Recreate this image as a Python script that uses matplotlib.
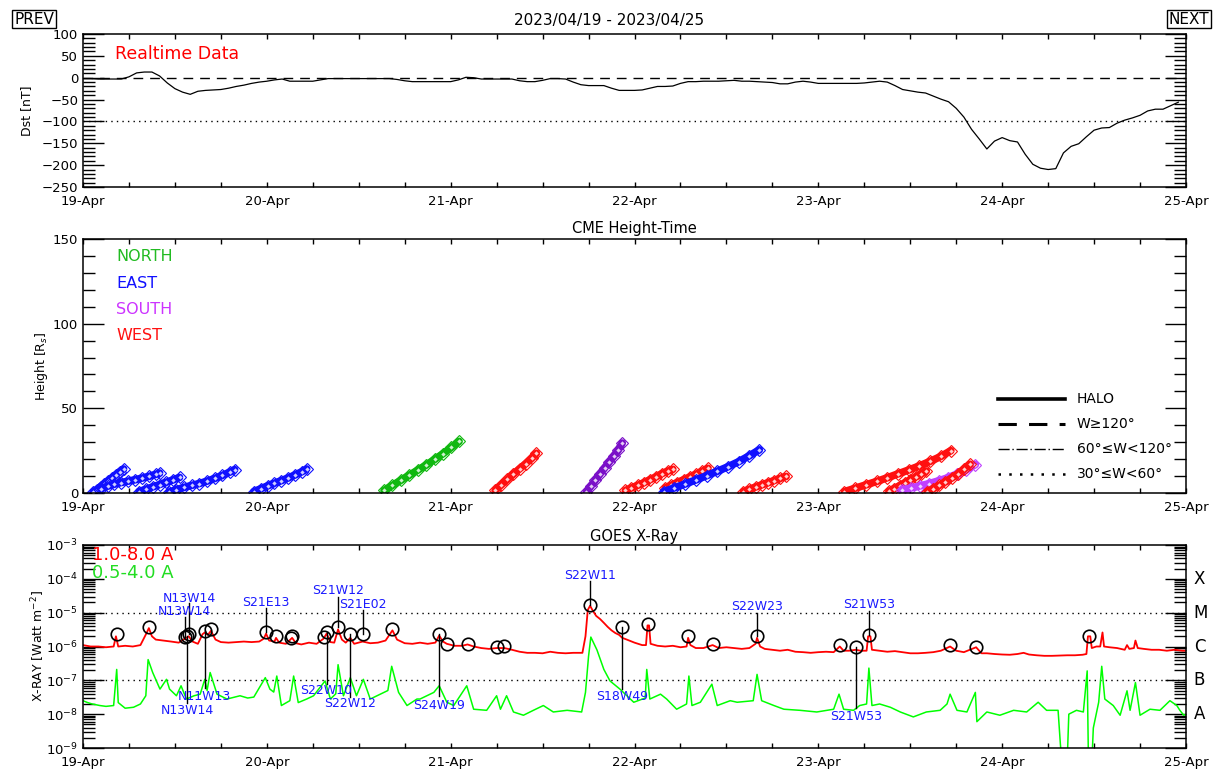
import numpy as np
import matplotlib
matplotlib.use('Agg')
import matplotlib.pyplot as plt
from matplotlib.ticker import FixedLocator, NullFormatter
import matplotlib.transforms as mtrans

# ---------------- data ----------------
day_labels = ['19-Apr', '20-Apr', '21-Apr', '22-Apr', '23-Apr', '24-Apr', '25-Apr']
title_text = '2023/04/19 - 2023/04/25'

# Dst hourly values (hours since 2023-04-19 00UT)
dst_values = [-2, -2, -3, -3, -3, -3, 2, 11, 13, 13, 4, -12, -25, -33, -38, -31, -29, -28, -27, -24,
              -20, -17, -13, -10, -8, -5, -3, -8, -8, -8, -8, -5, -2, -2, -2, -2, -2, -2, -2, -2,
              -2, -4, -7, -9, -9, -9, -9, -9, -9, -5, 1, 0, -3, -3, -3, -3, -3, -7, -9, -9,
              -6, -2, -2, -3, -10, -16, -18, -18, -18, -24, -29, -29, -29, -28, -24, -20, -20, -19, -13, -9,
              -9, -8, -8, -8, -7, -6, -8, -8, -9, -10, -11, -14, -14, -10, -8, -10, -13, -13, -13, -13,
              -13, -13, -12, -10, -8, -10, -18, -27, -30, -33, -35, -42, -49, -55, -70, -90, -118, -140, -163, -145,
              -137, -144, -147, -175, -198, -207, -210, -208, -172, -157, -151, -135, -120, -115, -114, -104, -97, -92, -86, -76,
              -72, -72, -64, -56]
dst_hours = list(range(len(dst_values)))

# CME height-time tracks: (hours, heights in Rs)
cme_blue_a_t = [1.3, 1.8, 2.3, 2.8, 3.3, 3.8, 4.3, 4.8, 5.3]
cme_blue_a_h = [0.5, 2.0, 3.8, 5.5, 7.2, 8.9, 10.8, 12.6, 14.2]
cme_blue_b_t = [2.3, 3.2, 4.1, 5.0, 5.9, 6.8, 7.7, 8.6, 9.5, 10.0]
cme_blue_b_h = [2.5, 4.0, 5.2, 6.2, 7.0, 7.8, 8.8, 9.8, 11.0, 11.8]
cme_blue_c_t = [7.3, 8.2, 9.1, 10.0, 10.9, 11.8, 12.6]
cme_blue_c_h = [0.8, 2.2, 3.6, 5.0, 6.4, 7.8, 9.2]
cme_blue_d_t = [11.2, 12.2, 13.2, 14.2, 15.2, 16.2, 17.2, 18.2, 19.2, 19.8]
cme_blue_d_h = [0.5, 2.0, 3.3, 4.5, 5.6, 7.0, 8.6, 10.4, 12.4, 13.8]
cme_blue_e_t = [22.3, 23.2, 24.1, 25.0, 25.9, 26.8, 27.7, 28.6, 29.2]
cme_blue_e_h = [0.8, 2.5, 4.2, 5.8, 7.3, 8.9, 10.7, 12.6, 14.2]
cme_green_t = [39.3, 40.4, 41.5, 42.6, 43.7, 44.8, 45.9, 47.0, 48.1, 49.1]
cme_green_h = [1.5, 4.5, 7.5, 10.5, 13.5, 16.5, 19.8, 23.2, 27.0, 30.5]
cme_red_g1_t = [53.8, 54.6, 55.4, 56.2, 57.0, 57.8, 58.6, 59.2]
cme_red_g1_h = [1.5, 4.8, 8.0, 11.2, 14.3, 17.3, 20.6, 23.5]
cme_purple1_t = [65.7, 66.3, 66.9, 67.5, 68.1, 68.7, 69.3, 69.9, 70.4]
cme_purple1_h = [0.5, 4.0, 7.7, 11.3, 14.8, 18.3, 21.8, 25.5, 29.5]
cme_red_f_t = [70.8, 71.6, 72.4, 73.2, 74.0, 74.8, 75.6, 76.4, 77.0]
cme_red_f_h = [1.5, 3.0, 4.5, 6.0, 7.8, 9.5, 11.5, 13.0, 14.0]
cme_red_g_t = [76.0, 76.8, 77.6, 78.4, 79.2, 80.0, 80.8, 81.6]
cme_red_g_h = [3.0, 4.6, 6.2, 7.8, 9.4, 11.0, 12.8, 14.6]
cme_blue_f_t = [75.8, 77.2, 78.6, 80.0, 81.4, 82.8, 84.2, 85.6, 87.0, 88.3]
cme_blue_f_h = [0.8, 3.0, 5.3, 7.7, 10.2, 12.8, 15.5, 18.5, 22.0, 25.5]
cme_red_h_t = [86.2, 87.0, 87.8, 88.6, 89.4, 90.2, 91.0, 91.8]
cme_red_h_h = [0.8, 2.2, 3.5, 4.8, 6.0, 7.3, 8.6, 9.8]
cme_red_i_t = [99.4, 100.8, 102.2, 103.6, 105.0, 106.4, 107.8, 109.2, 110.6, 112.0, 113.3]
cme_red_i_h = [0.8, 2.8, 4.8, 6.8, 9.0, 11.3, 13.6, 16.0, 18.7, 21.6, 25.0]
cme_red_j_t = [105.2, 105.9, 106.6, 107.3, 108.0, 108.7, 109.4, 110.1]
cme_red_j_h = [1.0, 2.6, 4.3, 6.0, 7.7, 9.4, 11.2, 13.0]
cme_purple2_t = [106.9, 108.1, 109.3, 110.5, 111.7, 112.9, 114.1, 115.3, 116.5]
cme_purple2_h = [1.8, 3.0, 4.2, 5.6, 7.2, 9.0, 11.2, 13.6, 16.8]
cme_red_l_t = [110.2, 111.0, 111.8, 112.6, 113.4, 114.2, 115.0, 115.8]
cme_red_l_h = [0.8, 2.5, 4.5, 6.6, 8.8, 11.2, 14.0, 17.0]

# GOES 1.0-8.0 A (hours, W/m^2)
xr_long_t = [0, 1, 2, 3, 4.0, 4.3, 4.6, 5.5, 6.5, 7.5, 8.3, 8.6, 9.0, 9.5, 10.5, 11.5, 12.5, 13.3, 13.8, 14.3,
             15.0, 15.6, 15.9, 16.3, 16.7, 17.3, 18, 19, 20, 21, 22, 23, 23.6, 23.9, 24.3, 25.0, 25.2, 25.6, 26.5, 27.3,
             27.8, 28.5, 29.5, 30.5, 31.4, 31.8, 32.3, 32.8, 33.3, 33.8, 34.3, 34.9, 35.4, 36.5, 37.5, 38.5, 39.5, 40.4, 41, 42,
             43, 44, 45, 46.0, 46.5, 47.0, 47.5, 48.5, 49.5, 50.2, 51, 52, 53, 54, 55, 56, 57, 58, 59, 60,
             61, 62, 63, 64, 65.2, 65.6, 65.9, 66.2, 66.6, 67.0, 67.5, 68.0, 68.5, 69, 69.5, 70.0, 70.4, 71, 72, 73,
             73.5, 73.7, 73.9, 74.1, 75, 76, 77, 78, 78.8, 79.0, 79.3, 80, 81, 82.2, 83, 84, 85, 86, 87, 87.8,
             88.0, 88.4, 89, 90, 91, 92, 93, 94, 95, 96, 97, 98, 98.8, 99.3, 100, 100.9, 101.5, 102.3, 102.5, 102.8,
             103, 104, 105, 106, 107, 108, 109, 110, 111, 112, 113.2, 114, 115, 116.6, 117.3, 118, 119, 120, 121, 122,
             122.8, 123.5, 124.5, 125.5, 126.5, 127.5, 128.5, 129.5, 130.5, 131.0, 131.2, 131.5, 131.7, 132.3, 132.8, 133.1, 133.3, 134, 135, 136.0,
             136.3, 136.6, 137.2, 137.4, 137.7, 138.5, 139.5, 140.5, 141.5, 142.5, 143.5, 144]
xr_long_f = [1.1e-6, 1.0e-6, 1.0e-6, 9.5e-7, 1.0e-6, 2.0e-6, 1.0e-6, 1.05e-6, 1.0e-6, 1.1e-6, 2.5e-6, 3.5e-6, 2.0e-6, 1.6e-6, 1.5e-6, 1.4e-6, 1.3e-6, 1.7e-6, 2.0e-6, 1.4e-6,
             1.2e-6, 2.3e-6, 2.6e-6, 2.2e-6, 2.9e-6, 1.6e-6, 1.35e-6, 1.3e-6, 1.35e-6, 1.4e-6, 1.35e-6, 1.4e-6, 1.7e-6, 2.4e-6, 1.5e-6, 1.4e-6, 1.8e-6, 1.3e-6, 1.2e-6, 1.8e-6,
             1.25e-6, 1.15e-6, 1.3e-6, 1.2e-6, 1.7e-6, 2.4e-6, 1.35e-6, 1.3e-6, 3.2e-6, 1.6e-6, 1.3e-6, 1.8e-6, 1.2e-6, 1.4e-6, 1.25e-6, 1.3e-6, 1.5e-6, 3.0e-6, 1.6e-6, 1.25e-6,
             1.2e-6, 1.3e-6, 1.2e-6, 1.3e-6, 2.1e-6, 1.4e-6, 1.2e-6, 1.05e-6, 1.05e-6, 1.15e-6, 1.0e-6, 9e-7, 8.5e-7, 9e-7, 9e-7, 8e-7, 7e-7, 6.5e-7, 6.5e-7, 6.3e-7,
             7e-7, 6.5e-7, 6.3e-7, 6.5e-7, 6.5e-7, 2e-6, 1.2e-5, 1.6e-5, 1.1e-5, 8e-6, 6.5e-6, 5e-6, 3.8e-6, 3e-6, 2.5e-6, 2.2e-6, 1.8e-6, 1.6e-6, 1.3e-6, 1.1e-6,
             1.1e-6, 4.2e-6, 4.2e-6, 1.2e-6, 1.05e-6, 1.0e-6, 1.05e-6, 9.5e-7, 1.0e-6, 1.8e-6, 1.1e-6, 9e-7, 9e-7, 1.1e-6, 9e-7, 9.5e-7, 9e-7, 8.5e-7, 9e-7, 1.2e-6,
             1.8e-6, 1.0e-6, 8.5e-7, 8e-7, 7.5e-7, 8e-7, 7e-7, 6.8e-7, 6.5e-7, 6.8e-7, 7e-7, 6.8e-7, 1.0e-6, 7.5e-7, 7.5e-7, 8e-7, 7.5e-7, 7.5e-7, 2.0e-6, 2.0e-6,
             8e-7, 7.5e-7, 7e-7, 7.3e-7, 6.8e-7, 6.3e-7, 6.3e-7, 6.5e-7, 6.8e-7, 7.5e-7, 1.0e-6, 7.5e-7, 6.8e-7, 9.5e-7, 6.3e-7, 6.3e-7, 6e-7, 5.8e-7, 5.7e-7, 6.0e-7,
             6.5e-7, 5.8e-7, 5.5e-7, 5.3e-7, 5.3e-7, 5.4e-7, 5.5e-7, 5.5e-7, 5.7e-7, 6e-7, 2.0e-6, 2.0e-6, 9e-7, 1.0e-6, 1.0e-6, 2.6e-6, 1.0e-6, 9.5e-7, 9e-7, 8e-7,
             1.1e-6, 8.5e-7, 9e-7, 1.5e-6, 9e-7, 8.5e-7, 8e-7, 8e-7, 7.5e-7, 8e-7, 7.5e-7, 7.5e-7]

# GOES 0.5-4.0 A (hours, W/m^2)
xr_short_t = [0, 0.6, 1.2, 2.2, 3.0, 4.0, 4.4, 4.6, 5.5, 6.6, 7.5, 8.2, 8.5, 9.1, 10.05, 10.9, 11.3, 12.2, 12.8, 13.5,
              14.5, 15.3, 15.9, 16.2, 16.6, 17.5, 18.8, 20.5, 21.5, 22.3, 23.8, 24.4, 24.9, 25.3, 25.9, 27.0, 27.5, 28.1, 29.2, 30.1,
              31.6, 32.3, 33.0, 33.3, 34.0, 34.9, 35.7, 36.6, 37.5, 38.8, 39.8, 40.3, 41.2, 42.3, 43.6, 44.0, 45.8, 46.5, 47.5, 48.4,
              50.1, 51.0, 52.7, 54.0, 54.5, 55.3, 56.2, 57.5, 58.8, 60.1, 61.4, 63.2, 65.1, 65.6, 66.0, 66.3, 67.1, 68.0, 68.8, 70.1,
              71.0, 71.9, 73.4, 73.6, 74.0, 75.4, 76.2, 77.5, 78.8, 79.1, 79.5, 80.6, 82.1, 82.8, 84.5, 85.4, 87.5, 88.0, 88.6, 90.2,
              91.5, 93.6, 95.8, 98.0, 98.7, 99.3, 100.6, 101.4, 102.3, 102.6, 103.0, 104.0, 105.4, 106.7, 108.4, 110.1, 111.9, 112.8, 113.2, 114.1,
              115.4, 116.5, 116.7, 118.0, 119.7, 121.5, 123.2, 124.7, 125.8, 127.3, 127.6, 128.0, 128.4, 128.7, 129.7, 130.6, 131.1, 131.3, 131.6, 131.9,
              132.6, 133.0, 133.4, 134.5, 135.4, 136.3, 136.7, 137.4, 138.0, 139.3, 140.6, 141.9, 142.8, 143.2, 143.7, 144.0]
xr_short_f = [2.5e-8, 2.2e-8, 2.0e-8, 1.8e-8, 1.7e-8, 1.8e-8, 2.1e-7, 2.2e-8, 1.5e-8, 1.6e-8, 2.0e-8, 3.5e-8, 4.1e-7, 1.7e-7, 5.5e-8, 1.07e-7, 5.5e-8, 3.5e-8, 6.9e-8, 2.8e-8,
              3.5e-8, 3.9e-8, 1.07e-7, 5e-8, 1.7e-7, 3.9e-8, 2.8e-8, 3.5e-8, 3.0e-8, 3.2e-8, 1.2e-7, 5.5e-8, 4.5e-8, 1.34e-7, 1.8e-8, 2.5e-8, 1.34e-7, 2.2e-8, 2.8e-8, 3.5e-8,
              9.6e-8, 2.8e-8, 4e-8, 2.9e-7, 3.5e-8, 1.2e-7, 3.5e-8, 1.07e-7, 2.8e-8, 3.9e-8, 5e-8, 2.6e-7, 4.4e-8, 1.8e-8, 2.8e-8, 2.8e-8, 4.4e-8, 6.9e-8, 2.25e-8, 1.8e-8,
              6.9e-8, 1.4e-8, 1.3e-8, 3.5e-8, 1.4e-8, 3.5e-8, 1.16e-8, 9.3e-9, 1.3e-8, 1.8e-8, 1.16e-8, 1.3e-8, 1.16e-8, 4.4e-8, 5.1e-7, 1.9e-6, 7.9e-7, 2.1e-7, 9.6e-8, 5.5e-8,
              3.5e-8, 2.25e-8, 3e-8, 2.1e-7, 2.8e-8, 3.9e-8, 2.8e-8, 1.4e-8, 2.0e-8, 1.34e-7, 1.8e-8, 2.25e-8, 7.7e-8, 1.8e-8, 2.5e-8, 2.25e-8, 2.5e-8, 1.5e-7, 2.5e-8, 1.8e-8,
              1.4e-8, 1.3e-8, 1.16e-8, 1.4e-8, 3.9e-8, 1.4e-8, 1.3e-8, 1.8e-8, 2e-8, 2.3e-7, 1.8e-8, 2.0e-8, 1.6e-8, 1.16e-8, 8.3e-9, 1.16e-8, 1.3e-8, 2e-8, 3.9e-8, 1.3e-8,
              1.16e-8, 4.4e-8, 6.0e-9, 1.16e-8, 9.3e-9, 1.3e-8, 1.16e-8, 2.25e-8, 1.3e-8, 1.3e-8, 1.3e-9, 1e-10, 1e-10, 1.0e-8, 1.3e-8, 1.16e-8, 1.9e-7, 1e-10, 1e-10, 3.9e-9,
              2.25e-8, 2.6e-7, 2.8e-8, 1.8e-8, 9.3e-9, 4.9e-8, 1.3e-8, 8.6e-8, 9.3e-9, 1.4e-8, 1.3e-8, 2.5e-8, 1.8e-8, 1.3e-8, 9.3e-9, 1e-8]

# flares marked with circles (hours, peak flux)
flare_t = [4.4, 8.6, 13.3, 13.6, 13.9, 15.9, 16.7, 23.9, 25.2, 27.2, 27.3, 31.4, 31.8, 33.3, 34.9, 36.5, 40.4,
           46.5, 47.5, 50.2, 54.0, 55.0, 66.2, 70.4, 73.7, 79.0, 82.2, 88.0, 98.8, 100.9, 102.6, 113.2, 116.6, 131.3]
flare_f = [2.3e-6, 3.9e-6, 1.9e-6, 2.0e-6, 2.3e-6, 2.8e-6, 3.2e-6, 2.7e-6, 2.0e-6, 1.8e-6, 2.0e-6, 1.9e-6, 2.7e-6, 3.7e-6, 2.4e-6, 2.4e-6, 3.4e-6,
           2.3e-6, 1.2e-6, 1.2e-6, 9.5e-7, 1.05e-6, 1.66e-5, 3.9e-6, 4.7e-6, 2.0e-6, 1.2e-6, 2.0e-6, 1.1e-6, 1.0e-6, 2.2e-6, 1.1e-6, 1.0e-6, 2.1e-6]

# flare location labels: hour, peak flux, label, line end flux, label flux
loc_t = [13.9, 13.3, 23.9, 33.3, 36.5, 66.2, 88.0, 102.6, 15.9, 13.6, 31.8, 34.9, 46.5, 70.4, 100.9]
loc_peak = [2.3e-6, 1.9e-6, 2.7e-6, 3.7e-6, 2.4e-6, 1.66e-5, 2.0e-6, 2.2e-6, 2.8e-6, 2.0e-6, 2.7e-6, 2.4e-6, 2.3e-6, 3.9e-6, 1.0e-6]
loc_text = ['N13W14', 'N13W14', 'S21E13', 'S21W12', 'S21E02', 'S22W11', 'S22W23', 'S21W53',
            'N11W13', 'N13W14', 'S22W10', 'S22W12', 'S24W19', 'S18W49', 'S21W53']
loc_line_end = [1.9e-5, 7.6e-6, 1.4e-5, 2.9e-5, 1.2e-5, 8.5e-5, 1.0e-5, 1.1e-5,
                5.8e-8, 2.2e-8, 7.7e-8, 3.2e-8, 3.5e-8, 5.5e-8, 1.5e-8]
loc_label_f = [2.7e-5, 1.1e-5, 2.0e-5, 4.4e-5, 1.7e-5, 1.23e-4, 1.5e-5, 1.7e-5,
               3.4e-8, 1.3e-8, 4.9e-8, 2.0e-8, 1.8e-8, 3.4e-8, 8.3e-9]

goes_classes = ['X', 'M', 'C', 'B', 'A']
goes_class_f = [1e-4, 1e-5, 1e-6, 1e-7, 1e-8]

# ---------------- figure ----------------
W, H = 1219, 773
fig = plt.figure(figsize=(W / 100, H / 100), dpi=100)


def axes_px(l, t, r, b):
    return fig.add_axes([l / W, 1 - b / H, (r - l) / W, (b - t) / H])


ax1 = axes_px(83, 34, 1186, 187)
ax2 = axes_px(83, 239, 1186, 493)
ax3 = axes_px(83, 545, 1186, 748)

TL = 9.5
for ax in (ax1, ax2, ax3):
    ax.set_xlim(0, 144)
    ax.xaxis.set_major_locator(FixedLocator([24 * i for i in range(7)]))
    ax.xaxis.set_minor_locator(FixedLocator([6 * i for i in range(25)]))
    ax.set_xticklabels(day_labels)
    ax.tick_params(axis='x', which='both', direction='in', top=True, bottom=True,
                   length=3.6, width=1, labelsize=TL, pad=6)
    ax.tick_params(axis='y', which='major', direction='in', left=True, right=True,
                   length=15, width=1, labelsize=TL)
    ax.tick_params(axis='y', which='minor', direction='in', left=True, right=True,
                   length=8.5, width=1)
    for s in ax.spines.values():
        s.set_linewidth(1.1)

# --- Dst panel ---
ax1.plot(dst_hours, dst_values, color='black', lw=0.9)
ax1.axhline(0, color='black', lw=1, ls=(0, (7, 5)))
ax1.axhline(-100, color='black', lw=1, ls=(0, (1, 3)))
ax1.set_ylim(-250, 100)
ax1.yaxis.set_major_locator(FixedLocator(list(range(-250, 101, 50))))
ax1.yaxis.set_minor_locator(FixedLocator(list(range(-250, 101, 10))))
ax1.set_ylabel('Dst [nT]', fontsize=9, labelpad=6)
ax1.text(0.029, 0.87, 'Realtime Data', color='red', fontsize=12.5, transform=ax1.transAxes,
         ha='left', va='center')

# --- CME panel ---
ax2.set_ylim(0, 150)
ax2.yaxis.set_major_locator(FixedLocator([0, 50, 100, 150]))
ax2.yaxis.set_minor_locator(FixedLocator(list(range(0, 151, 10))))
ax2.set_ylabel('Height [R$_s$]', fontsize=9, labelpad=2)
ax2.set_title('CME Height-Time', fontsize=10.5, pad=4)

tracks = [
    (cme_blue_a_t, cme_blue_a_h, '#1010ff'),
    (cme_blue_b_t, cme_blue_b_h, '#1010ff'),
    (cme_blue_c_t, cme_blue_c_h, '#1010ff'),
    (cme_blue_d_t, cme_blue_d_h, '#1010ff'),
    (cme_blue_e_t, cme_blue_e_h, '#1010ff'),
    (cme_green_t, cme_green_h, '#10b810'),
    (cme_red_g1_t, cme_red_g1_h, '#ff1010'),
    (cme_purple1_t, cme_purple1_h, '#7a10c8'),
    (cme_red_f_t, cme_red_f_h, '#ff1010'),
    (cme_red_g_t, cme_red_g_h, '#ff1010'),
    (cme_blue_f_t, cme_blue_f_h, '#1010ff'),
    (cme_red_h_t, cme_red_h_h, '#ff1010'),
    (cme_red_i_t, cme_red_i_h, '#ff1010'),
    (cme_red_j_t, cme_red_j_h, '#ff1010'),
    (cme_purple2_t, cme_purple2_h, '#c040ff'),
    (cme_red_l_t, cme_red_l_h, '#ff1010'),
]
for tt, hh, col in tracks:
    ax2.plot(tt, hh, color=col, lw=5.5, solid_capstyle='round', clip_on=True)
    ax2.plot(tt, hh, ls='none', marker='D', ms=6.5, mfc='none', mec=col, mew=0.8,
             clip_on=True)
    ax2.plot(tt, hh, ls='none', marker='D', ms=2.2, mfc='white', mec='none',
             alpha=0.8, clip_on=True)

for txt, col, yy in [('NORTH', '#22bb22', 0.933), ('EAST', '#1010ff', 0.823),
                     ('SOUTH', '#cc33ff', 0.724), ('WEST', '#ff1010', 0.622)]:
    ax2.text(0.03, yy, txt, color=col, fontsize=11.5, transform=ax2.transAxes, ha='left', va='center')

leg_rows = [('HALO', dict(lw=2.6, ls='-')),
            ('W\u2265120\u00b0', dict(lw=2.2, ls=(0, (6, 4)))),
            ('60\u00b0\u2264W<120\u00b0', dict(lw=1, ls=(0, (8, 2, 1, 2)))),
            ('30\u00b0\u2264W<60\u00b0', dict(lw=1.8, ls=(0, (1, 3.3))))]
leg_y = [0.370, 0.272, 0.173, 0.075]
for (txt, sty), yy in zip(leg_rows, leg_y):
    ax2.plot([0.8296, 0.8903], [yy, yy], color='black', transform=ax2.transAxes, **sty)
    ax2.text(0.9012, yy, txt, fontsize=10, transform=ax2.transAxes, ha='left', va='center')

# --- GOES panel ---
ax3.set_yscale('log')
ax3.set_ylim(1e-9, 1e-3)
decades = [10.0 ** e for e in range(-9, -2)]
ax3.yaxis.set_major_locator(FixedLocator(decades))
ax3.set_yticklabels(['10$^{%d}$' % e for e in range(-9, -2)])
minors = [m * 10.0 ** e for e in range(-9, -3) for m in range(2, 10)]
ax3.yaxis.set_minor_locator(FixedLocator(minors))
ax3.yaxis.set_minor_formatter(NullFormatter())
ax3.set_ylabel('X-RAY [Watt m$^{-2}$]', fontsize=9, labelpad=-1)
ax3.set_title('GOES X-Ray', fontsize=10.5, pad=3)
ax3.axhline(1e-5, color='black', lw=1, ls=(0, (1, 3)))
ax3.axhline(1e-7, color='black', lw=1, ls=(0, (1, 3)))

ax3.plot(xr_short_t, xr_short_f, color='#00ff00', lw=1.1)
ax3.plot(xr_long_t, xr_long_f, color='#ff0000', lw=1.3)

for t0, pk, end in zip(loc_t, loc_peak, loc_line_end):
    ax3.plot([t0, t0], [pk, end], color='black', lw=1)
ax3.plot(flare_t, flare_f, ls='none', marker='o', ms=9, mfc='none', mec='black', mew=1.2)
for t0, txt, lf in zip(loc_t, loc_text, loc_label_f):
    ax3.text(t0, lf, txt, color='#1a1aff', fontsize=9, ha='center', va='center')

ax3.text(0.008, 0.951, '1.0-8.0 A', color='red', fontsize=13, transform=ax3.transAxes,
         ha='left', va='center')
ax3.text(0.008, 0.862, '0.5-4.0 A', color='#22dd22', fontsize=13, transform=ax3.transAxes,
         ha='left', va='center')

trans = mtrans.blended_transform_factory(ax3.transAxes, ax3.transData)
for lab, ff in zip(goes_classes, goes_class_f):
    ax3.text(1.007, ff, lab, fontsize=12, transform=trans, ha='left', va='center')

# --- header ---
fig.text(0.5, 1 - 20 / H, title_text, ha='center', va='center', fontsize=11)
box = dict(boxstyle='square,pad=0.12', fc='white', ec='black', lw=1)
fig.text(34 / W, 1 - 19 / H, 'PREV', ha='center', va='center', fontsize=11, bbox=box)
fig.text(1189 / W, 1 - 19 / H, 'NEXT', ha='center', va='center', fontsize=11, bbox=box)

fig.savefig('out.png', dpi=100)
